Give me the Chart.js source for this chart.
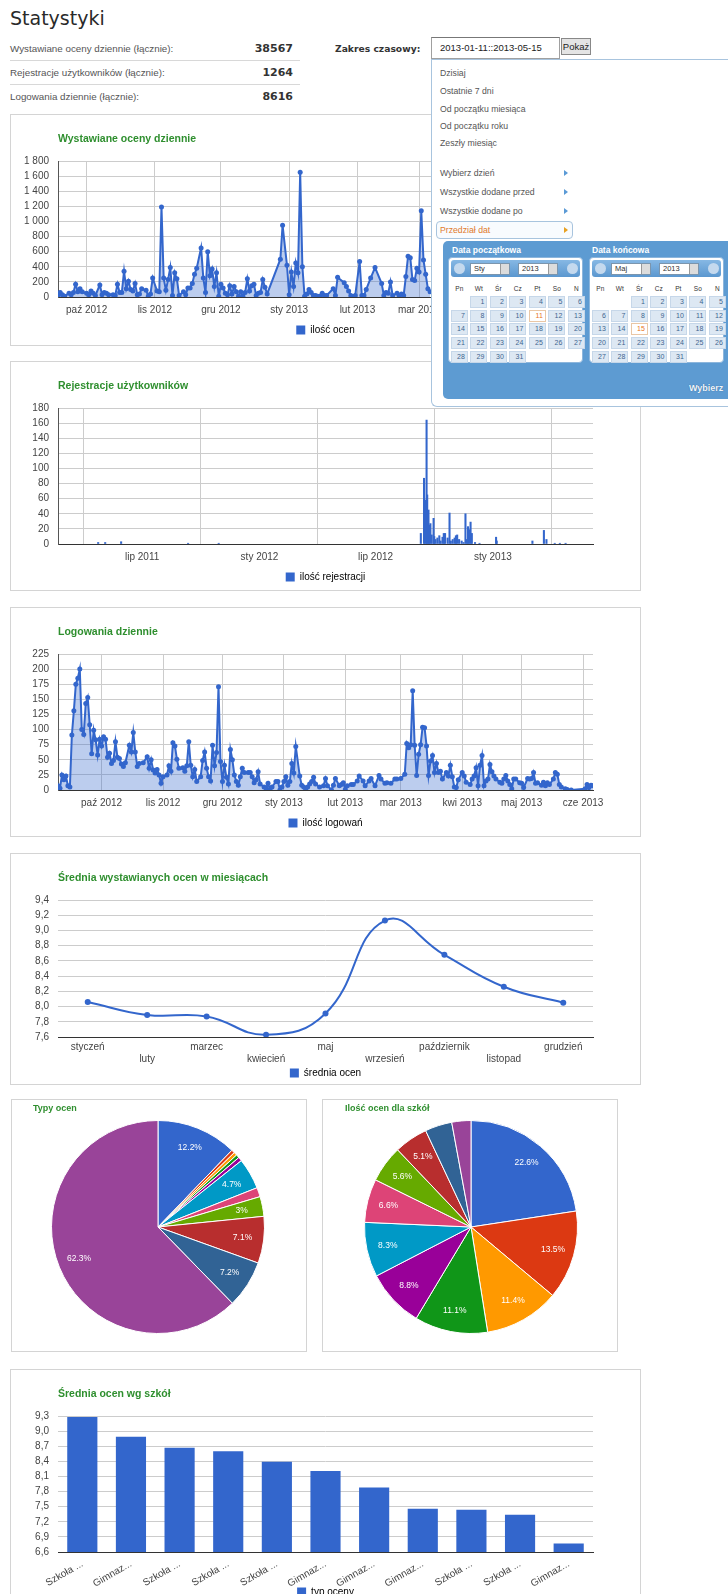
<!DOCTYPE html>
<html lang="pl">
<head>
<meta charset="utf-8">
<title>Statystyki</title>
<script src="https://cdn.jsdelivr.net/npm/chart.js@4.4.1/dist/chart.umd.min.js"></script>
<style>
html,body{margin:0;padding:0}
body{width:728px;height:1594px;overflow:hidden;position:relative;background:#fff;font-family:"Liberation Sans",Arial,sans-serif;color:#555}
#naglowek{position:absolute;left:10px;top:7px;margin:0;font:19px/22px "DejaVu Sans",Verdana,sans-serif;color:#2a2a2a}
.wiersz{position:absolute;left:10px;width:290px;height:23px;line-height:23px;font-size:9.8px;color:#555}
.wiersz.linia{border-bottom:1px solid #d8d8d8}
.wiersz b{position:absolute;right:7px;top:0;font:bold 11px/23px "DejaVu Sans",Verdana,sans-serif;color:#333}
#zakresLbl{position:absolute;left:335px;top:37px;line-height:23px;font:bold 9.2px/23px "DejaVu Sans",Verdana,sans-serif;color:#333}
#pole{position:absolute;left:431px;top:37px;width:129px;height:22px;box-sizing:border-box;border:1px solid #a0a0a0;border-top-color:#777;font-size:9.5px;line-height:20px;padding-left:8px;color:#222;background:#fff}
#pokaz{position:absolute;left:561px;top:38px;width:30px;height:17px;box-sizing:border-box;border:1px solid #888;background:#e4e4e4;font-size:9.5px;line-height:15px;text-align:center;color:#222}
.panel{position:absolute;border:1px solid #d4d4d4;background:#fff}
.panel canvas{position:absolute;left:0;top:0}
#menu{position:absolute;left:431px;top:59px;width:300px;height:346px;border:1px solid #a8c4de;border-right:none;border-radius:0 0 0 6px;background:#fff;font-size:8.7px;color:#555;z-index:5}
.poz{position:absolute;left:8px;height:14px;line-height:14px;white-space:nowrap}
.strz{position:absolute;left:132px;width:0;height:0;border-left:4px solid #5a9ad6;border-top:3px solid transparent;border-bottom:3px solid transparent}
#przedzial{position:absolute;left:4px;top:161px;width:137px;height:18px;box-sizing:border-box;border:1px solid #a8c4de;border-radius:4px;background:#f8fbfe}
#niebieski{position:absolute;left:11px;top:181px;width:292px;height:158px;background:#5d9bd2;border-radius:5px}
.kalTyt{position:absolute;top:3px;line-height:12px;font-weight:bold;font-size:8.5px;color:#fff;white-space:nowrap}
.kal{position:absolute;top:16px;width:135px;height:106px;box-sizing:border-box;background:#fff;border:1px solid #8db6dc;border-radius:4px}
.kalGora{position:absolute;left:2px;top:2px;width:129px;height:17px;background:linear-gradient(#86b8e4,#5b97cf);border-radius:3px}
.kolo{position:absolute;top:3px;width:11px;height:11px;border-radius:50%;background:#c4d9ee}
.wybor{position:absolute;top:3px;width:40px;height:12px;box-sizing:border-box;background:#fff;border:1px solid #7b95ad;font-size:7.5px;line-height:10px;padding-left:3px;color:#333}
.wybor i{position:absolute;right:0;top:0;width:8px;height:10px;background:#dcdcdc;border-left:1px solid #999}
.dn{position:absolute;top:25px;width:18px;text-align:center;font-size:6.5px;line-height:12px;color:#333}
.dz{position:absolute;width:17px;height:12px;box-sizing:border-box;background:#dde8f3;border:1px solid #c6d7e9;font-size:7px;line-height:10px;text-align:right;padding-right:2px;color:#3d6690}
.dz.wyb{background:#fff;border-color:#e9c7a6;color:#e8761c}
#wybierz{position:absolute;left:246px;top:141px;font-weight:bold;font-size:9px;line-height:12px;color:#eef5fc;text-shadow:0 0 1px #2a5a8a}
</style>
</head>
<body>
<h1 id="naglowek">Statystyki</h1>
<div class="wiersz linia" style="top:37px">Wystawiane oceny dziennie (łącznie):<b>38567</b></div>
<div class="wiersz linia" style="top:61px">Rejestracje użytkowników (łącznie):<b>1264</b></div>
<div class="wiersz" style="top:85px">Logowania dziennie (łącznie):<b>8616</b></div>
<div id="zakresLbl">Zakres czasowy:</div>
<div id="pole">2013-01-11::2013-05-15</div>
<div id="pokaz">Pokaż</div>

<div class="panel" style="left:10px;top:114px;width:629px;height:230px"><canvas id="wykresOceny" width="628" height="230"></canvas></div>
<div class="panel" style="left:10px;top:361px;width:629px;height:228px"><canvas id="wykresRejestracje" width="628" height="230"></canvas></div>
<div class="panel" style="left:10px;top:607px;width:629px;height:228px"><canvas id="wykresLogowania" width="628" height="230"></canvas></div>
<div class="panel" style="left:10px;top:853px;width:629px;height:230px"><canvas id="wykresMiesiace" width="628" height="234"></canvas></div>
<div class="panel" style="left:11px;top:1099px;width:294px;height:251px"><canvas id="wykresTypy" width="294" height="251"></canvas></div>
<div class="panel" style="left:322px;top:1099px;width:294px;height:251px"><canvas id="wykresSzkoly" width="294" height="251"></canvas></div>
<div class="panel" style="left:10px;top:1369px;width:629px;height:240px"><canvas id="wykresSrednie" width="628" height="237"></canvas></div>

<div id="menu">
  <div class="poz" style="top:6px">Dzisiaj</div>
  <div class="poz" style="top:24px">Ostatnie 7 dni</div>
  <div class="poz" style="top:42px">Od początku miesiąca</div>
  <div class="poz" style="top:59px">Od początku roku</div>
  <div class="poz" style="top:76px">Zeszły miesiąc</div>
  <div class="poz" style="top:106px">Wybierz dzień</div>
  <div class="poz" style="top:125px">Wszystkie dodane przed</div>
  <div class="poz" style="top:144px">Wszystkie dodane po</div>
  <div id="przedzial"></div>
  <div class="poz" style="top:163px;color:#e07a2c">Przedział dat</div>
  <span class="strz" style="top:110px"></span>
  <span class="strz" style="top:129px"></span>
  <span class="strz" style="top:148px"></span>
  <span class="strz" style="top:167px;border-left-color:#e8a020"></span>
  <div id="niebieski">
    <div class="kalTyt" style="left:9px">Data początkowa</div>
    <div class="kalTyt" style="left:149px">Data końcowa</div>
    <div class="kal" id="kalStart" style="left:5px">
      <div class="kalGora"><span class="kolo" style="left:3px"></span><span class="wybor" style="left:19px">Sty<i></i></span><span class="wybor" style="left:67px">2013<i></i></span><span class="kolo" style="left:116px"></span></div>
    </div>
    <div class="kal" id="kalKoniec" style="left:146px">
      <div class="kalGora"><span class="kolo" style="left:3px"></span><span class="wybor" style="left:19px">Maj<i></i></span><span class="wybor" style="left:67px">2013<i></i></span><span class="kolo" style="left:116px"></span></div>
    </div>
    <div id="wybierz">Wybierz</div>
  </div>
</div>

<script>
// Wystawiane oceny dziennie: dzien liczony od 2012-09-18
const ocenyDzien = [0,1,2,3,5,6,7,8,9,10,11,13,14,15,16,17,19,20,21,22,23,25,26,27,28,29,30,31,32,33,
  34,35,36,37,38,40,41,42,43,45,46,47,48,49,50,51,52,53,54,55,57,58,59,60,61,62,63,65,66,67,
  68,69,70,71,72,73,74,75,76,77,78,79,80,81,82,83,84,85,86,87,88,89,90,91,92,93,94,95,101,102,
  104,105,106,107,108,109,110,111,112,113,114,115,116,117,118,119,120,121,122,125,126,127,130,131,132,133,135,137,138,139,
  140,142,144,147,148,149,150,151,152,154,155,156,157,158,159,160,161,162,163,164,165,166,167,168,169];
const ocenyIlosc = [10,60,30,10,50,30,60,170,70,110,70,50,30,80,50,20,160,30,60,50,30,30,20,170,60,60,340,110,210,100,
  80,180,30,40,110,90,10,40,250,80,70,1190,250,90,230,390,20,320,240,20,70,30,120,120,180,300,380,650,250,60,
  600,280,370,140,320,10,170,120,50,30,150,40,140,70,10,70,10,60,240,80,150,170,20,50,60,230,130,40,500,950,
  420,30,330,140,450,320,1650,400,10,40,100,60,20,20,10,10,50,20,20,110,20,260,190,140,80,20,20,470,20,20,
  100,250,390,180,20,60,50,200,20,50,10,40,20,270,540,520,230,220,380,330,1140,490,300,110,70];
const ocenyMiesiacDzien = [13,44,74,105,136,164,195,225];
const ocenyMiesiacEtykiety = ['paź 2012','lis 2012','gru 2012','sty 2013','lut 2013','mar 2013','kwi 2013','maj 2013'];

// Rejestracje: dzien liczony od 2011-07-01
const rejestracjeDzien = [-69,-58,-33,72,120,437,442,444,446,447,449,450,452,454,457,458,460,463,466,468,471,473,475,479,482,
  484,487,490,492,494,497,501,504,507,509,511,513,515,517,522,529,555,556,612,630,634,647,655,664];
const rejestracjeIlosc = [2,2,3,1,1,14,87,58,164,65,45,25,27,12,34,10,6,8,11,4,9,14,14,8,41,
  4,6,8,11,12,6,4,2,40,6,23,19,29,14,2,1,9,4,4,18,6,1,1,1];
const rejestracjeMiesiacDzien = [0,184,366,550];
const rejestracjeMiesiacEtykiety = ['lip 2011','sty 2012','lip 2012','sty 2013'];

// Logowania dziennie: dzien liczony od 2012-09-09
const logowaniaDzien = [0,1,2,3,4,5,6,7,8,9,10,11,12,13,14,15,16,17,18,19,20,21,22,23,24,25,26,27,28,29,
  30,31,32,33,34,36,37,38,39,40,41,43,45,46,47,48,49,50,51,52,53,55,56,57,58,59,60,61,63,64,
  65,66,67,68,69,70,72,73,74,75,76,77,78,79,80,81,82,83,84,85,86,87,88,89,90,91,92,93,94,96,
  97,98,99,100,101,102,104,105,106,107,108,110,111,112,113,114,115,116,117,118,119,120,122,123,124,125,126,127,128,129,
  130,132,134,135,136,138,139,140,142,143,144,145,146,148,149,151,152,154,155,157,158,160,162,163,165,166,168,170,171,173,
  175,176,177,178,179,180,181,182,183,184,185,186,187,188,189,190,191,192,193,194,196,197,198,199,200,201,202,204,205,206,
  208,209,210,211,212,213,214,215,216,217,218,219,220,221,223,224,225,226,227,228,229,230,231,233,234,235,237,238,239,240,
  241,242,244,245,246,247,248,250,251,252,253,254,256,257,259,266,267,268,269,270];
const logowaniaIlosc = [7,3,25,17,23,7,5,91,131,175,185,200,100,92,143,153,108,60,99,83,58,84,73,88,84,54,61,44,49,80,
  54,52,43,39,45,74,63,95,63,39,44,45,55,36,50,33,28,34,25,11,22,25,40,31,78,73,51,36,37,31,
  40,80,41,22,34,14,22,49,63,36,22,15,74,40,62,171,47,14,41,21,10,67,50,25,14,8,22,36,29,29,
  29,22,12,17,30,10,5,3,11,1,5,14,14,0,5,14,22,8,14,44,28,72,23,8,5,1,5,10,14,21,
  10,5,7,19,7,0,8,19,7,9,12,1,7,9,9,15,23,15,7,15,19,7,24,18,11,12,11,18,18,19,
  26,77,70,75,164,74,24,59,75,104,103,73,24,48,57,29,44,29,31,18,29,23,41,22,5,4,17,29,23,13,
  9,18,23,37,7,41,57,7,15,18,42,30,23,18,13,11,18,24,15,9,2,18,18,12,11,4,19,18,19,29,
  11,12,8,13,7,12,9,18,29,26,9,5,2,1,0,2,9,4,8,7];
const logowaniaMiesiacDzien = [22,53,83,114,145,173,204,234,265];
const logowaniaMiesiacEtykiety = ['paź 2012','lis 2012','gru 2012','sty 2013','lut 2013','mar 2013','kwi 2013','maj 2013','cze 2013'];

// Średnia wystawianych ocen w miesiącach
const miesiace = ['styczeń','luty','marzec','kwiecień','maj','wrzesień','październik','listopad','grudzień'];
const srednieMiesiace = [8.06,7.89,7.87,7.63,7.91,9.13,8.68,8.26,8.05];

// Typy ocen (udział w %)
const typyOcen = ['typ 1','typ 2','typ 3','typ 4','typ 5','typ 6','typ 7','typ 8','typ 9','typ 10','typ 11'];
const typyOcenUdzial = [12.2,0.5,0.5,0.5,0.6,4.7,1.4,3.0,7.1,7.2,62.3];

// Ilość ocen dla szkół (udział w %)
const szkolyPie = ['szkoła 1','szkoła 2','szkoła 3','szkoła 4','szkoła 5','szkoła 6','szkoła 7','szkoła 8','szkoła 9','szkoła 10','szkoła 11'];
const szkolyUdzial = [22.6,13.5,11.4,11.1,8.8,8.3,6.6,5.6,5.1,4.1,2.9];

// Średnia ocen wg szkół
const szkoly = ['Szkoła ...','Gimnaz...','Szkoła ...','Szkoła ...','Szkoła ...','Gimnaz...','Gimnaz...','Gimnaz...','Szkoła ...','Szkoła ...','Gimnaz...'];
const srednieSzkoly = [9.28,8.89,8.67,8.60,8.39,8.21,7.88,7.46,7.44,7.34,6.77];

const kolory = ['#3366cc','#dc3912','#ff9900','#109618','#990099','#0099c6','#dd4477','#66aa00','#b82e2e','#316395','#994499'];
const niebieski = '#3366cc';
const wypelnienie = 'rgba(51,102,204,0.33)';

Chart.defaults.font.family = "'Liberation Sans', Arial, sans-serif";
Chart.defaults.font.size = 10;
Chart.defaults.color = '#444';
Chart.defaults.animation = false;
Chart.defaults.responsive = false;
Chart.defaults.plugins.tooltip.enabled = false;

// kalendarze w rozwijanym menu
const dniTygodnia = ['Pn','Wt','Śr','Cz','Pt','So','N'];
function kalendarz(id, pierwszy, ileDni, wybrany) {
  let html = '';
  dniTygodnia.forEach((d, k) => { html += `<span class="dn" style="left:${1.3 + 19.5 * k}px">${d}</span>`; });
  for (let n = 1; n <= ileDni; n++) {
    const p = pierwszy + n - 1;
    const k = p % 7, r = Math.floor(p / 7);
    html += `<span class="dz${n === wybrany ? ' wyb' : ''}" style="left:${1.8 + 19.5 * k}px;top:${38 + 13.7 * r}px">${n}</span>`;
  }
  document.getElementById(id).insertAdjacentHTML('beforeend', html);
}
kalendarz('kalStart', 1, 31, 11);
kalendarz('kalKoniec', 2, 31, 15);

const tysiace = v => String(v).replace(/\B(?=(\d{3})+(?!\d))/g, ' ');
const przecinek = v => v.toFixed(1).replace('.', ',');

function tytul(tekst) {
  return {display: true, text: tekst, align: 'start', fullSize: false, color: '#2f8f2f',
    font: {size: 10.5, weight: 'bold'}, padding: {top: 18, bottom: 15.4}};
}
function legenda(tekst) {
  return {position: 'bottom', fullSize: false,
    labels: {boxWidth: 9, boxHeight: 9, padding: 0, color: '#222', font: {size: 10},
      generateLabels: () => [{text: tekst, fillStyle: niebieski, strokeStyle: niebieski, lineWidth: 0, hidden: false, datasetIndex: 0}]}};
}
function osCzasu(min, max, dni, etykiety) {
  return {type: 'linear', min: min, max: max,
    afterBuildTicks: s => { s.ticks = dni.map(v => ({value: v})); },
    afterFit: s => { s.height = 28; },
    ticks: {autoSkip: false, maxRotation: 0, padding: 7, callback: (v, i) => etykiety[i]},
    grid: {color: '#cccccc', drawTicks: false},
    border: {color: '#333'}};
}
function osWartosci(min, max, krok, format, krawedz) {
  return {min: min, max: max,
    ticks: {stepSize: krok, padding: 9, callback: format},
    afterFit: s => { s.width = 47; },
    grid: {color: '#cccccc', drawTicks: false},
    border: {display: krawedz, color: '#555'}};
}
const punkty = (dni, wart) => dni.map((d, i) => ({x: d, y: wart[i]}));

function wykresLiniowy(id, dni, wart, min, max, tickDni, tickEt, yMax, yKrok, yFormat, nazwa, tyt) {
  new Chart(document.getElementById(id), {
    type: 'line',
    data: {datasets: [{label: nazwa, data: punkty(dni, wart), borderColor: niebieski, borderWidth: 2,
      backgroundColor: wypelnienie, fill: 'origin', pointRadius: 2.5, pointBackgroundColor: niebieski, pointBorderWidth: 0, tension: 0}]},
    options: {layout: {padding: {left: 0, right: 46, top: 0, bottom: 0}},
      scales: {x: osCzasu(min, max, tickDni, tickEt), y: osWartosci(0, yMax, yKrok, yFormat, true)},
      plugins: {title: tytul(tyt), legend: legenda(nazwa)}}
  });
}

wykresLiniowy('wykresOceny', ocenyDzien, ocenyIlosc, 0, 243, ocenyMiesiacDzien, ocenyMiesiacEtykiety,
  1800, 200, tysiace, 'ilość ocen', 'Wystawiane oceny dziennie');

new Chart(document.getElementById('wykresRejestracje'), {
  type: 'bar',
  data: {datasets: [{label: 'ilość rejestracji', data: punkty(rejestracjeDzien, rejestracjeIlosc), backgroundColor: niebieski, barThickness: 1.4}]},
  options: {layout: {padding: {left: 0, right: 46, top: 0, bottom: 0}},
    scales: {x: Object.assign(osCzasu(-132, 707, rejestracjeMiesiacDzien, rejestracjeMiesiacEtykiety), {offset: false}),
      y: osWartosci(0, 180, 20, v => v, true)},
    plugins: {title: tytul('Rejestracje użytkowników'), legend: legenda('ilość rejestracji')}}
});

wykresLiniowy('wykresLogowania', logowaniaDzien, logowaniaIlosc, 0, 270, logowaniaMiesiacDzien, logowaniaMiesiacEtykiety,
  225, 25, v => v, 'ilość logowań', 'Logowania dziennie');

new Chart(document.getElementById('wykresMiesiace'), {
  type: 'line',
  data: {labels: miesiace, datasets: [{label: 'średnia ocen', data: srednieMiesiace, borderColor: niebieski, borderWidth: 2,
    pointRadius: 3, pointBackgroundColor: niebieski, pointBorderWidth: 0, tension: 0.45, fill: false}]},
  options: {layout: {padding: {left: 0, right: 46, top: 0, bottom: 0}},
    scales: {
      x: {offset: true, afterFit: s => { s.height = 31; },
        ticks: {autoSkip: false, maxRotation: 0, padding: 4, callback: (v, i) => i % 2 ? ['', miesiace[i]] : [miesiace[i]]},
        grid: {display: false, drawTicks: false}, border: {color: '#333'}},
      y: osWartosci(7.6, 9.4, 0.2, przecinek, false)},
    plugins: {title: tytul('Średnia wystawianych ocen w miesiącach'), legend: legenda('średnia ocen')}}
});

const procentyPlugin = {
  id: 'procenty',
  afterDatasetsDraw(chart) {
    const ctx = chart.ctx;
    const dane = chart.data.datasets[0].data;
    const suma = dane.reduce((a, b) => a + b, 0);
    ctx.save();
    ctx.font = "8.5px 'Liberation Sans', Arial, sans-serif";
    ctx.fillStyle = '#fff';
    ctx.textAlign = 'center';
    ctx.textBaseline = 'middle';
    chart.getDatasetMeta(0).data.forEach((luk, i) => {
      const p = luk.getProps(['x', 'y', 'startAngle', 'endAngle', 'outerRadius'], true);
      const tekst = (Math.round(dane[i] / suma * 1000) / 10) + '%';
      const kat = (p.startAngle + p.endAngle) / 2;
      const d = p.outerRadius * 0.8;
      const szer = ctx.measureText(tekst).width;
      const cieciwa = 2 * d * Math.sin((p.endAngle - p.startAngle) / 2);
      // napis tylko gdy mieści się w wycinku
      if (szer * Math.abs(Math.sin(kat)) + 10 * Math.abs(Math.cos(kat)) + 2 > cieciwa) return;
      ctx.fillText(tekst, p.x + d * Math.cos(kat), p.y + d * Math.sin(kat));
    });
    ctx.restore();
  }
};

function wykresKolowy(id, nazwy, udzialy, tyt, lewy, prawy) {
  new Chart(document.getElementById(id), {
    type: 'pie',
    data: {labels: nazwy, datasets: [{data: udzialy, backgroundColor: kolory, borderColor: '#fff', borderWidth: 1}]},
    options: {layout: {padding: {left: lewy, right: prawy, top: 0, bottom: 17}},
      plugins: {legend: {display: false},
        title: {display: true, text: tyt, align: 'start', color: '#2f8f2f', font: {size: 9, weight: 'bold'}, padding: {top: 3.6, bottom: 5.6}}}},
    plugins: [procentyPlugin]
  });
}
wykresKolowy('wykresTypy', typyOcen, typyOcenUdzial, 'Typy ocen', 21, 23);
wykresKolowy('wykresSzkoly', szkolyPie, szkolyUdzial, 'Ilość ocen dla szkół', 22, 20);

new Chart(document.getElementById('wykresSrednie'), {
  type: 'bar',
  data: {labels: szkoly, datasets: [{label: 'typ oceny', data: srednieSzkoly, backgroundColor: niebieski, barPercentage: 0.62, categoryPercentage: 1}]},
  options: {layout: {padding: {left: 0, right: 46, top: 0, bottom: 0}},
    scales: {
      x: {afterFit: s => { s.height = 35; },
        ticks: {autoSkip: false, minRotation: 30, maxRotation: 30, padding: 6},
        grid: {display: false, drawTicks: false}, border: {color: '#333'}},
      y: osWartosci(6.6, 9.3, 0.3, przecinek, false)},
    plugins: {title: tytul('Średnia ocen wg szkół'), legend: legenda('typ oceny')}}
});
</script>
</body>
</html>
